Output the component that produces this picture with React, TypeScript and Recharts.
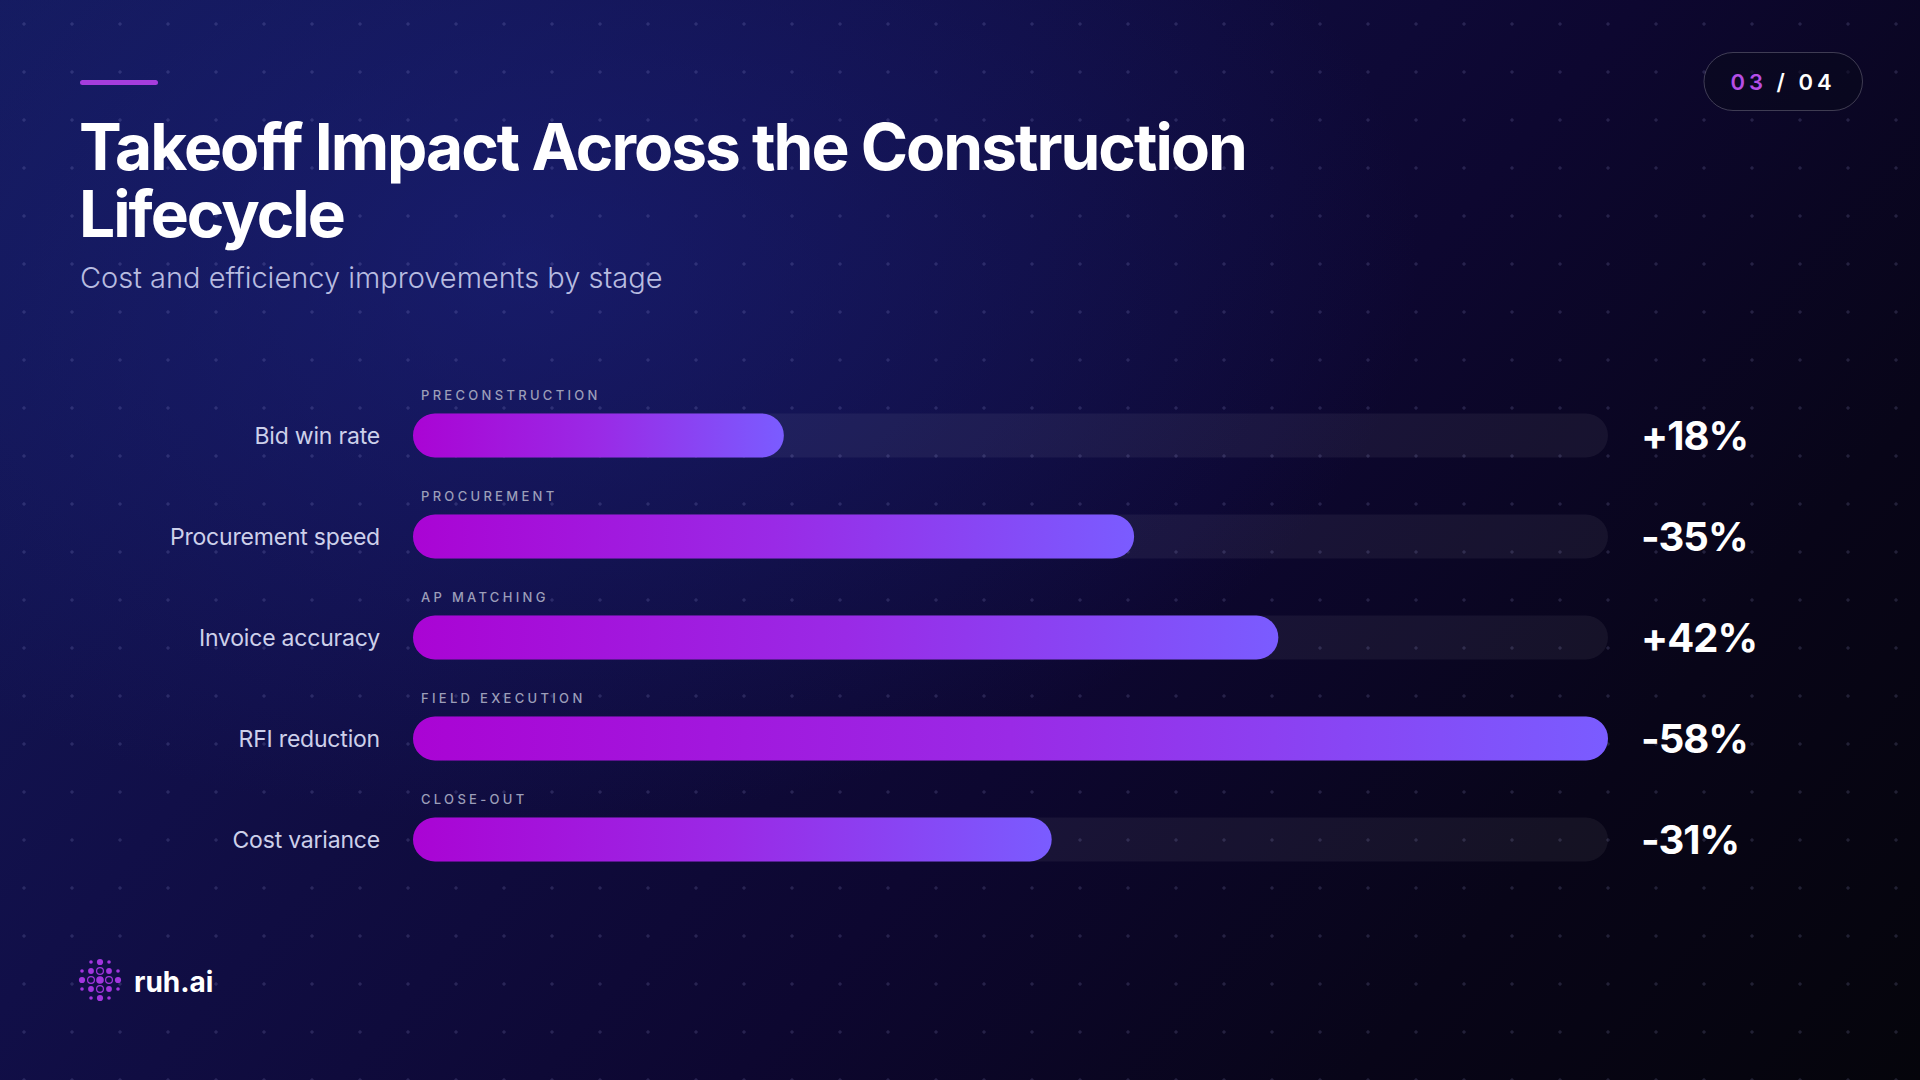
import { BarChart, Bar, XAxis, YAxis, LabelList } from 'recharts';

const metrics = ['Bid win rate', 'Procurement speed', 'Invoice accuracy', 'RFI reduction', 'Cost variance'];
const stages = ['PRECONSTRUCTION', 'PROCUREMENT', 'AP MATCHING', 'FIELD EXECUTION', 'CLOSE-OUT'];
const changes = [18, -35, 42, -58, -31];
const xDomainMax = 58;

const chartData = metrics.map((metric, i) => ({
  metric,
  stage: stages[i],
  size: Math.abs(changes[i]),
  label: `${changes[i] > 0 ? '+' : '-'}${Math.abs(changes[i])}%`,
}));

const FONT = 'Inter, "Noto Sans", sans-serif';

// logo dots on a small grid: [gx, gy, r, hollow]
const logoDots: Array<[number, number, number, boolean]> = [
  [0, 0, 3.8, false],
  [1, 0, 3.4, true], [-1, 0, 3.4, true], [0, 1, 3.4, true], [0, -1, 3.4, true],
  [1, 1, 2.9, false], [-1, 1, 2.9, false], [1, -1, 2.9, false], [-1, -1, 2.9, false],
  [2, 0, 3.1, false], [-2, 0, 3.1, false], [0, 2, 3.1, false], [0, -2, 3.1, false],
  [2, 1, 1.8, false], [-2, 1, 1.8, false], [2, -1, 1.8, false], [-2, -1, 1.8, false],
  [1, 2, 1.8, false], [-1, 2, 1.8, false], [1, -2, 1.8, false], [-1, -2, 1.8, false],
];

function MetricTick({ x, y, payload }: any) {
  return (
    <text x={x} y={y} dy={8.5} textAnchor="end" fill="#cdd0ea" fontSize={23} fontFamily={FONT}
      letterSpacing={-0.2}>
      {payload.value}
    </text>
  );
}

function ValueTick({ x, y, payload }: any) {
  return (
    <text x={x} y={y} dy={14.5} textAnchor="start" fill="#ffffff" fontSize={40} fontWeight={700}
      fontFamily={FONT} letterSpacing={-1}>
      {payload.value}
    </text>
  );
}

function StageLabel({ x, y, value }: any) {
  return (
    <text x={x + 8} y={y - 14} fill="#9c9eb9" fontSize={13} fontWeight={500} letterSpacing={3.3}
      fontFamily={FONT}>
      {value}
    </text>
  );
}

export default function App() {
  return (
    <div style={{ position: 'absolute', left: 0, top: 0, width: 1920, height: 1080, overflow: 'hidden',
      background: 'radial-gradient(ellipse 1200px 750px at 520px 260px, rgba(28,36,130,0.55), rgba(0,0,0,0) 75%), linear-gradient(130deg, #141a5c 0%, #110f48 30%, #0d0730 58%, #080518 80%, #05050b 100%)' }}>
      <div style={{ position: 'absolute', inset: 0,
        backgroundImage: 'radial-gradient(circle at center, rgba(190,190,255,0.15) 0, rgba(190,190,255,0.15) 1.3px, rgba(0,0,0,0) 2px)',
        backgroundSize: '48px 48px' }} />

      <div style={{ position: 'absolute', left: 0, top: 0 }}>
        <BarChart width={1920} height={1080} data={chartData} layout="vertical"
          margin={{ top: 384.5, right: 0, bottom: 190.5, left: 0 }}>
          <defs>
            <linearGradient id="barGrad" x1="0" y1="0" x2="1" y2="0">
              <stop offset="0%" stopColor="#aa04d4" />
              <stop offset="50%" stopColor="#9a2ae6" />
              <stop offset="100%" stopColor="#7a5cff" />
            </linearGradient>
          </defs>
          <XAxis type="number" domain={[0, xDomainMax]} hide />
          <YAxis yAxisId="left" type="category" dataKey="metric" width={413} axisLine={false}
            tickLine={false} tickSize={0} tickMargin={33} tick={<MetricTick />} />
          <YAxis yAxisId="right" orientation="right" type="category" dataKey="label" width={312}
            axisLine={false} tickLine={false} tickSize={0} tickMargin={33} tick={<ValueTick />} />
          <Bar yAxisId="left" dataKey="size" barSize={44} radius={22} fill="url(#barGrad)"
            background={{ fill: 'rgba(255,255,255,0.055)', radius: 22 }} isAnimationActive={false}>
            <LabelList dataKey="stage" content={<StageLabel />} />
          </Bar>
        </BarChart>
      </div>

      <svg width={1920} height={1080} style={{ position: 'absolute', left: 0, top: 0, pointerEvents: 'none' }}>
        <rect x={80} y={80} width={78} height={5} rx={2.5} fill="#a63ddc" />
        <text x={79} y={170} fill="#ffffff" fontSize={64} fontWeight={700} fontFamily={FONT} letterSpacing={-2}>
          Takeoff Impact Across the Construction
        </text>
        <text x={79} y={237} fill="#ffffff" fontSize={64} fontWeight={700} fontFamily={FONT} letterSpacing={-2}>
          Lifecycle
        </text>
        <text x={80} y={288} fill="#b8bce0" fontSize={29} fontWeight={300} fontFamily={FONT}>
          Cost and efficiency improvements by stage
        </text>

        <rect x={1704} y={52.5} width={158.5} height={58} rx={29} fill="rgba(10,10,28,0.55)"
          stroke="rgba(255,255,255,0.22)" strokeWidth={1} />
        <text x={1783} y={90} textAnchor="middle" fontSize={22} fontWeight={600} fontFamily={FONT} letterSpacing={4}>
          <tspan fill="#b64ee6">03</tspan>
          <tspan fill="#ffffff"> / 04</tspan>
        </text>

        <g transform="translate(100 980)">
          {logoDots.map(([gx, gy, r, hollow], i) => (
            <circle key={i} cx={gx * 9} cy={gy * 9} r={r}
              fill={hollow ? 'none' : '#a235de'} stroke={hollow ? '#a235de' : 'none'} strokeWidth={1.2} />
          ))}
        </g>
        <text x={134} y={992} fill="#ffffff" fontSize={28} fontWeight={700} fontFamily={FONT}>ruh.ai</text>
      </svg>
    </div>
  );
}
